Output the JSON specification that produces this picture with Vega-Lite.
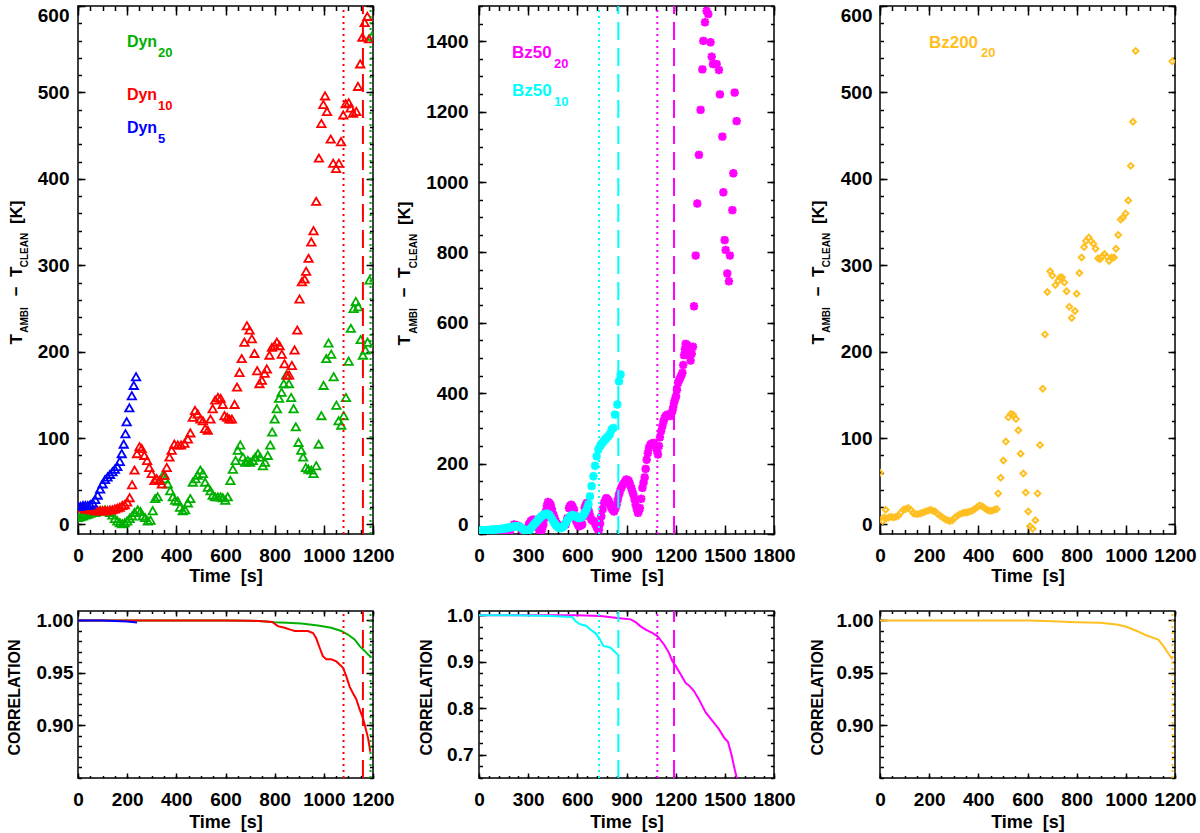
{
"$schema": "https://vega.github.io/schema/vega-lite/v6.json",
"background": "white",
"padding": {"left": 5, "top": 4, "right": 5, "bottom": 2},
"autosize": {"type": "pad"},
"config": {
  "view": {"stroke": "black", "strokeWidth": 1.5},
  "axis": {"domain": false, "grid": false, "tickColor": "black", "tickWidth": 1.5, "labelFont": "Liberation Sans", "labelFontSize": 19, "labelFontWeight": "bold", "labelColor": "black", "titleFont": "Liberation Sans", "titleFontWeight": "bold", "titleColor": "black", "labelOverlap": false, "labelFlush": false, "labelBound": false, "format": "d"},
  "text": {"font": "Liberation Sans"}
},
"datasets": {
"dyn": [
{"s":"Dyn20","t":0,"v":8},{"s":"Dyn20","t":10,"v":9},{"s":"Dyn20","t":20,"v":10},{"s":"Dyn20","t":30,"v":11},{"s":"Dyn20","t":40,"v":12},{"s":"Dyn20","t":50,"v":13},{"s":"Dyn20","t":60,"v":14},{"s":"Dyn20","t":70,"v":14},{"s":"Dyn20","t":80,"v":15},{"s":"Dyn20","t":90,"v":16},{"s":"Dyn20","t":100,"v":16},{"s":"Dyn20","t":110,"v":17},{"s":"Dyn20","t":120,"v":16},{"s":"Dyn20","t":130,"v":14},{"s":"Dyn20","t":140,"v":11},{"s":"Dyn20","t":150,"v":7},{"s":"Dyn20","t":160,"v":4},{"s":"Dyn20","t":170,"v":2},{"s":"Dyn20","t":180,"v":1},{"s":"Dyn20","t":190,"v":2},{"s":"Dyn20","t":200,"v":4},{"s":"Dyn20","t":210,"v":7},{"s":"Dyn20","t":220,"v":10},{"s":"Dyn20","t":230,"v":14},{"s":"Dyn20","t":243,"v":17},{"s":"Dyn20","t":254,"v":15},{"s":"Dyn20","t":263,"v":10},{"s":"Dyn20","t":273,"v":8},{"s":"Dyn20","t":284,"v":4},{"s":"Dyn20","t":295,"v":5},{"s":"Dyn20","t":304,"v":16},{"s":"Dyn20","t":314,"v":30},{"s":"Dyn20","t":324,"v":32},{"s":"Dyn20","t":335,"v":51},{"s":"Dyn20","t":345,"v":57},{"s":"Dyn20","t":354,"v":53},{"s":"Dyn20","t":365,"v":47},{"s":"Dyn20","t":375,"v":39},{"s":"Dyn20","t":386,"v":32},{"s":"Dyn20","t":395,"v":28},{"s":"Dyn20","t":406,"v":27},{"s":"Dyn20","t":415,"v":20},{"s":"Dyn20","t":426,"v":16},{"s":"Dyn20","t":436,"v":17},{"s":"Dyn20","t":447,"v":25},{"s":"Dyn20","t":457,"v":30},{"s":"Dyn20","t":467,"v":49},{"s":"Dyn20","t":478,"v":53},{"s":"Dyn20","t":487,"v":57},{"s":"Dyn20","t":498,"v":63},{"s":"Dyn20","t":508,"v":59},{"s":"Dyn20","t":517,"v":49},{"s":"Dyn20","t":528,"v":43},{"s":"Dyn20","t":539,"v":39},{"s":"Dyn20","t":548,"v":34},{"s":"Dyn20","t":558,"v":32},{"s":"Dyn20","t":569,"v":32},{"s":"Dyn20","t":580,"v":32},{"s":"Dyn20","t":589,"v":31},{"s":"Dyn20","t":599,"v":28},{"s":"Dyn20","t":609,"v":32},{"s":"Dyn20","t":620,"v":51},{"s":"Dyn20","t":630,"v":64},{"s":"Dyn20","t":641,"v":74},{"s":"Dyn20","t":650,"v":86},{"s":"Dyn20","t":660,"v":92},{"s":"Dyn20","t":671,"v":78},{"s":"Dyn20","t":680,"v":72},{"s":"Dyn20","t":691,"v":74},{"s":"Dyn20","t":700,"v":72},{"s":"Dyn20","t":711,"v":74},{"s":"Dyn20","t":721,"v":78},{"s":"Dyn20","t":732,"v":82},{"s":"Dyn20","t":741,"v":78},{"s":"Dyn20","t":752,"v":68},{"s":"Dyn20","t":761,"v":72},{"s":"Dyn20","t":772,"v":80},{"s":"Dyn20","t":782,"v":92},{"s":"Dyn20","t":790,"v":107},{"s":"Dyn20","t":800,"v":122},{"s":"Dyn20","t":809,"v":134},{"s":"Dyn20","t":818,"v":146},{"s":"Dyn20","t":828,"v":153},{"s":"Dyn20","t":837,"v":163},{"s":"Dyn20","t":847,"v":173},{"s":"Dyn20","t":858,"v":163},{"s":"Dyn20","t":867,"v":147},{"s":"Dyn20","t":877,"v":134},{"s":"Dyn20","t":886,"v":113},{"s":"Dyn20","t":897,"v":95},{"s":"Dyn20","t":908,"v":86},{"s":"Dyn20","t":916,"v":78},{"s":"Dyn20","t":927,"v":66},{"s":"Dyn20","t":937,"v":64},{"s":"Dyn20","t":949,"v":63},{"s":"Dyn20","t":958,"v":59},{"s":"Dyn20","t":969,"v":68},{"s":"Dyn20","t":979,"v":93},{"s":"Dyn20","t":990,"v":126},{"s":"Dyn20","t":999,"v":161},{"s":"Dyn20","t":1010,"v":192},{"s":"Dyn20","t":1019,"v":210},{"s":"Dyn20","t":1030,"v":197},{"s":"Dyn20","t":1040,"v":171},{"s":"Dyn20","t":1051,"v":138},{"s":"Dyn20","t":1060,"v":120},{"s":"Dyn20","t":1071,"v":115},{"s":"Dyn20","t":1081,"v":126},{"s":"Dyn20","t":1090,"v":147},{"s":"Dyn20","t":1101,"v":189},{"s":"Dyn20","t":1110,"v":227},{"s":"Dyn20","t":1121,"v":250},{"s":"Dyn20","t":1130,"v":258},{"s":"Dyn20","t":1140,"v":252},{"s":"Dyn20","t":1150,"v":214},{"s":"Dyn20","t":1159,"v":196},{"s":"Dyn20","t":1169,"v":202},{"s":"Dyn20","t":1178,"v":211},{"s":"Dyn20","t":1186,"v":283},{"s":"Dyn20","t":1195,"v":565},
{"s":"Dyn10","t":0,"v":20},{"s":"Dyn10","t":10,"v":20},{"s":"Dyn10","t":20,"v":19},{"s":"Dyn10","t":30,"v":18},{"s":"Dyn10","t":40,"v":18},{"s":"Dyn10","t":50,"v":17},{"s":"Dyn10","t":60,"v":17},{"s":"Dyn10","t":70,"v":16},{"s":"Dyn10","t":80,"v":16},{"s":"Dyn10","t":90,"v":16},{"s":"Dyn10","t":100,"v":16},{"s":"Dyn10","t":110,"v":16},{"s":"Dyn10","t":120,"v":16},{"s":"Dyn10","t":130,"v":17},{"s":"Dyn10","t":140,"v":17},{"s":"Dyn10","t":150,"v":18},{"s":"Dyn10","t":160,"v":19},{"s":"Dyn10","t":170,"v":20},{"s":"Dyn10","t":180,"v":22},{"s":"Dyn10","t":190,"v":23},{"s":"Dyn10","t":200,"v":26},{"s":"Dyn10","t":210,"v":31},{"s":"Dyn10","t":220,"v":46},{"s":"Dyn10","t":230,"v":63},{"s":"Dyn10","t":240,"v":82},{"s":"Dyn10","t":250,"v":90},{"s":"Dyn10","t":259,"v":88},{"s":"Dyn10","t":270,"v":80},{"s":"Dyn10","t":281,"v":74},{"s":"Dyn10","t":290,"v":66},{"s":"Dyn10","t":300,"v":59},{"s":"Dyn10","t":311,"v":51},{"s":"Dyn10","t":320,"v":53},{"s":"Dyn10","t":331,"v":51},{"s":"Dyn10","t":341,"v":47},{"s":"Dyn10","t":352,"v":57},{"s":"Dyn10","t":361,"v":66},{"s":"Dyn10","t":372,"v":78},{"s":"Dyn10","t":381,"v":86},{"s":"Dyn10","t":392,"v":93},{"s":"Dyn10","t":406,"v":92},{"s":"Dyn10","t":419,"v":92},{"s":"Dyn10","t":433,"v":94},{"s":"Dyn10","t":447,"v":99},{"s":"Dyn10","t":457,"v":106},{"s":"Dyn10","t":467,"v":124},{"s":"Dyn10","t":476,"v":132},{"s":"Dyn10","t":487,"v":128},{"s":"Dyn10","t":498,"v":122},{"s":"Dyn10","t":508,"v":120},{"s":"Dyn10","t":517,"v":111},{"s":"Dyn10","t":528,"v":109},{"s":"Dyn10","t":539,"v":122},{"s":"Dyn10","t":548,"v":134},{"s":"Dyn10","t":558,"v":144},{"s":"Dyn10","t":569,"v":147},{"s":"Dyn10","t":580,"v":146},{"s":"Dyn10","t":589,"v":139},{"s":"Dyn10","t":596,"v":126},{"s":"Dyn10","t":607,"v":124},{"s":"Dyn10","t":616,"v":122},{"s":"Dyn10","t":626,"v":122},{"s":"Dyn10","t":637,"v":139},{"s":"Dyn10","t":647,"v":159},{"s":"Dyn10","t":657,"v":176},{"s":"Dyn10","t":666,"v":192},{"s":"Dyn10","t":677,"v":211},{"s":"Dyn10","t":687,"v":230},{"s":"Dyn10","t":698,"v":225},{"s":"Dyn10","t":707,"v":215},{"s":"Dyn10","t":718,"v":198},{"s":"Dyn10","t":729,"v":178},{"s":"Dyn10","t":738,"v":163},{"s":"Dyn10","t":748,"v":167},{"s":"Dyn10","t":759,"v":175},{"s":"Dyn10","t":768,"v":180},{"s":"Dyn10","t":779,"v":196},{"s":"Dyn10","t":789,"v":205},{"s":"Dyn10","t":800,"v":207},{"s":"Dyn10","t":809,"v":211},{"s":"Dyn10","t":820,"v":207},{"s":"Dyn10","t":829,"v":197},{"s":"Dyn10","t":840,"v":186},{"s":"Dyn10","t":850,"v":173},{"s":"Dyn10","t":859,"v":173},{"s":"Dyn10","t":870,"v":184},{"s":"Dyn10","t":881,"v":202},{"s":"Dyn10","t":892,"v":225},{"s":"Dyn10","t":901,"v":261},{"s":"Dyn10","t":911,"v":281},{"s":"Dyn10","t":922,"v":284},{"s":"Dyn10","t":928,"v":293},{"s":"Dyn10","t":938,"v":308},{"s":"Dyn10","t":949,"v":327},{"s":"Dyn10","t":958,"v":340},{"s":"Dyn10","t":969,"v":374},{"s":"Dyn10","t":980,"v":424},{"s":"Dyn10","t":990,"v":464},{"s":"Dyn10","t":998,"v":486},{"s":"Dyn10","t":1005,"v":496},{"s":"Dyn10","t":1013,"v":478},{"s":"Dyn10","t":1028,"v":446},{"s":"Dyn10","t":1038,"v":418},{"s":"Dyn10","t":1050,"v":412},{"s":"Dyn10","t":1061,"v":418},{"s":"Dyn10","t":1070,"v":443},{"s":"Dyn10","t":1079,"v":474},{"s":"Dyn10","t":1089,"v":487},{"s":"Dyn10","t":1101,"v":488},{"s":"Dyn10","t":1109,"v":482},{"s":"Dyn10","t":1119,"v":476},{"s":"Dyn10","t":1132,"v":478},{"s":"Dyn10","t":1139,"v":507},{"s":"Dyn10","t":1148,"v":533},{"s":"Dyn10","t":1157,"v":564},{"s":"Dyn10","t":1166,"v":581},{"s":"Dyn10","t":1177,"v":588},{"s":"Dyn10","t":1184,"v":562},
{"s":"Dyn5","t":0,"v":21},{"s":"Dyn5","t":10,"v":21},{"s":"Dyn5","t":20,"v":22},{"s":"Dyn5","t":30,"v":22},{"s":"Dyn5","t":40,"v":22},{"s":"Dyn5","t":50,"v":23},{"s":"Dyn5","t":60,"v":25},{"s":"Dyn5","t":70,"v":29},{"s":"Dyn5","t":80,"v":34},{"s":"Dyn5","t":90,"v":41},{"s":"Dyn5","t":100,"v":47},{"s":"Dyn5","t":110,"v":52},{"s":"Dyn5","t":120,"v":55},{"s":"Dyn5","t":130,"v":58},{"s":"Dyn5","t":140,"v":61},{"s":"Dyn5","t":150,"v":64},{"s":"Dyn5","t":160,"v":67},{"s":"Dyn5","t":170,"v":73},{"s":"Dyn5","t":178,"v":82},{"s":"Dyn5","t":186,"v":93},{"s":"Dyn5","t":193,"v":105},{"s":"Dyn5","t":198,"v":119},{"s":"Dyn5","t":209,"v":135},{"s":"Dyn5","t":219,"v":149},{"s":"Dyn5","t":227,"v":161},{"s":"Dyn5","t":236,"v":171}
],
"vl_dyn": [{"s":"Dyn10","t":1080,"k":"dotted"},{"s":"Dyn10","t":1159,"k":"dashed"},{"s":"Dyn20","t":1190,"k":"dotted"}],
"bz50": [
{"s":"Bz50_20","t":0,"v":3},{"s":"Bz50_20","t":15,"v":3},{"s":"Bz50_20","t":30,"v":3},{"s":"Bz50_20","t":45,"v":3},{"s":"Bz50_20","t":60,"v":3},{"s":"Bz50_20","t":75,"v":3},{"s":"Bz50_20","t":90,"v":3},{"s":"Bz50_20","t":105,"v":3},{"s":"Bz50_20","t":120,"v":4},{"s":"Bz50_20","t":135,"v":4},{"s":"Bz50_20","t":150,"v":5},{"s":"Bz50_20","t":165,"v":5},{"s":"Bz50_20","t":173,"v":6},{"s":"Bz50_20","t":190,"v":10},{"s":"Bz50_20","t":214,"v":27},{"s":"Bz50_20","t":230,"v":25},{"s":"Bz50_20","t":244,"v":22},{"s":"Bz50_20","t":260,"v":12},{"s":"Bz50_20","t":275,"v":6},{"s":"Bz50_20","t":285,"v":10},{"s":"Bz50_20","t":295,"v":17},{"s":"Bz50_20","t":305,"v":28},{"s":"Bz50_20","t":315,"v":36},{"s":"Bz50_20","t":326,"v":40},{"s":"Bz50_20","t":336,"v":41},{"s":"Bz50_20","t":346,"v":32},{"s":"Bz50_20","t":356,"v":22},{"s":"Bz50_20","t":366,"v":12},{"s":"Bz50_20","t":376,"v":6},{"s":"Bz50_20","t":385,"v":14},{"s":"Bz50_20","t":393,"v":27},{"s":"Bz50_20","t":400,"v":45},{"s":"Bz50_20","t":407,"v":64},{"s":"Bz50_20","t":414,"v":80},{"s":"Bz50_20","t":421,"v":91},{"s":"Bz50_20","t":429,"v":88},{"s":"Bz50_20","t":437,"v":83},{"s":"Bz50_20","t":445,"v":70},{"s":"Bz50_20","t":454,"v":55},{"s":"Bz50_20","t":461,"v":45},{"s":"Bz50_20","t":468,"v":36},{"s":"Bz50_20","t":478,"v":28},{"s":"Bz50_20","t":488,"v":24},{"s":"Bz50_20","t":498,"v":22},{"s":"Bz50_20","t":508,"v":22},{"s":"Bz50_20","t":518,"v":24},{"s":"Bz50_20","t":529,"v":27},{"s":"Bz50_20","t":539,"v":45},{"s":"Bz50_20","t":549,"v":74},{"s":"Bz50_20","t":556,"v":80},{"s":"Bz50_20","t":563,"v":83},{"s":"Bz50_20","t":571,"v":78},{"s":"Bz50_20","t":580,"v":69},{"s":"Bz50_20","t":587,"v":52},{"s":"Bz50_20","t":594,"v":36},{"s":"Bz50_20","t":602,"v":28},{"s":"Bz50_20","t":610,"v":22},{"s":"Bz50_20","t":620,"v":24},{"s":"Bz50_20","t":630,"v":27},{"s":"Bz50_20","t":638,"v":50},{"s":"Bz50_20","t":645,"v":74},{"s":"Bz50_20","t":651,"v":82},{"s":"Bz50_20","t":657,"v":88},{"s":"Bz50_20","t":664,"v":76},{"s":"Bz50_20","t":671,"v":64},{"s":"Bz50_20","t":678,"v":52},{"s":"Bz50_20","t":685,"v":41},{"s":"Bz50_20","t":694,"v":38},{"s":"Bz50_20","t":702,"v":36},{"s":"Bz50_20","t":710,"v":28},{"s":"Bz50_20","t":718,"v":19},{"s":"Bz50_20","t":725,"v":14},{"s":"Bz50_20","t":732,"v":12},{"s":"Bz50_20","t":739,"v":30},{"s":"Bz50_20","t":746,"v":50},{"s":"Bz50_20","t":754,"v":70},{"s":"Bz50_20","t":763,"v":88},{"s":"Bz50_20","t":770,"v":96},{"s":"Bz50_20","t":777,"v":102},{"s":"Bz50_20","t":785,"v":98},{"s":"Bz50_20","t":793,"v":93},{"s":"Bz50_20","t":800,"v":84},{"s":"Bz50_20","t":807,"v":74},{"s":"Bz50_20","t":816,"v":68},{"s":"Bz50_20","t":824,"v":64},{"s":"Bz50_20","t":832,"v":72},{"s":"Bz50_20","t":840,"v":83},{"s":"Bz50_20","t":847,"v":98},{"s":"Bz50_20","t":854,"v":112},{"s":"Bz50_20","t":861,"v":122},{"s":"Bz50_20","t":868,"v":131},{"s":"Bz50_20","t":876,"v":139},{"s":"Bz50_20","t":885,"v":145},{"s":"Bz50_20","t":892,"v":150},{"s":"Bz50_20","t":899,"v":155},{"s":"Bz50_20","t":907,"v":153},{"s":"Bz50_20","t":915,"v":150},{"s":"Bz50_20","t":922,"v":140},{"s":"Bz50_20","t":929,"v":131},{"s":"Bz50_20","t":935,"v":122},{"s":"Bz50_20","t":942,"v":112},{"s":"Bz50_20","t":949,"v":98},{"s":"Bz50_20","t":956,"v":83},{"s":"Bz50_20","t":963,"v":71},{"s":"Bz50_20","t":970,"v":60},{"s":"Bz50_20","t":976,"v":66},{"s":"Bz50_20","t":982,"v":74},{"s":"Bz50_20","t":990,"v":100},{"s":"Bz50_20","t":997,"v":131},{"s":"Bz50_20","t":1004,"v":146},{"s":"Bz50_20","t":1011,"v":161},{"s":"Bz50_20","t":1017,"v":185},{"s":"Bz50_20","t":1023,"v":211},{"s":"Bz50_20","t":1030,"v":230},{"s":"Bz50_20","t":1037,"v":245},{"s":"Bz50_20","t":1044,"v":252},{"s":"Bz50_20","t":1051,"v":256},{"s":"Bz50_20","t":1060,"v":258},{"s":"Bz50_20","t":1068,"v":259},{"s":"Bz50_20","t":1075,"v":252},{"s":"Bz50_20","t":1082,"v":245},{"s":"Bz50_20","t":1087,"v":235},{"s":"Bz50_20","t":1092,"v":226},{"s":"Bz50_20","t":1098,"v":250},{"s":"Bz50_20","t":1104,"v":275},{"s":"Bz50_20","t":1111,"v":292},{"s":"Bz50_20","t":1119,"v":306},{"s":"Bz50_20","t":1126,"v":320},{"s":"Bz50_20","t":1133,"v":330},{"s":"Bz50_20","t":1141,"v":336},{"s":"Bz50_20","t":1149,"v":339},{"s":"Bz50_20","t":1157,"v":337},{"s":"Bz50_20","t":1165,"v":335},{"s":"Bz50_20","t":1172,"v":342},{"s":"Bz50_20","t":1180,"v":349},{"s":"Bz50_20","t":1185,"v":360},{"s":"Bz50_20","t":1190,"v":373},{"s":"Bz50_20","t":1196,"v":382},{"s":"Bz50_20","t":1202,"v":391},{"s":"Bz50_20","t":1208,"v":410},{"s":"Bz50_20","t":1214,"v":429},{"s":"Bz50_20","t":1220,"v":436},{"s":"Bz50_20","t":1226,"v":442},{"s":"Bz50_20","t":1234,"v":450},{"s":"Bz50_20","t":1241,"v":458},{"s":"Bz50_20","t":1246,"v":480},{"s":"Bz50_20","t":1251,"v":508},{"s":"Bz50_20","t":1256,"v":525},{"s":"Bz50_20","t":1261,"v":540},{"s":"Bz50_20","t":1268,"v":537},{"s":"Bz50_20","t":1275,"v":534},{"s":"Bz50_20","t":1283,"v":512},{"s":"Bz50_20","t":1291,"v":493},{"s":"Bz50_20","t":1298,"v":512},{"s":"Bz50_20","t":1306,"v":532},{"s":"Bz50_20","t":1312,"v":647},{"s":"Bz50_20","t":1322,"v":791},{"s":"Bz50_20","t":1332,"v":939},{"s":"Bz50_20","t":1342,"v":1077},{"s":"Bz50_20","t":1352,"v":1205},{"s":"Bz50_20","t":1363,"v":1320},{"s":"Bz50_20","t":1369,"v":1401},{"s":"Bz50_20","t":1379,"v":1454},{"s":"Bz50_20","t":1389,"v":1486},{"s":"Bz50_20","t":1399,"v":1477},{"s":"Bz50_20","t":1413,"v":1397},{"s":"Bz50_20","t":1420,"v":1356},{"s":"Bz50_20","t":1428,"v":1335},{"s":"Bz50_20","t":1450,"v":1335},{"s":"Bz50_20","t":1464,"v":1318},{"s":"Bz50_20","t":1470,"v":1249},{"s":"Bz50_20","t":1485,"v":1129},{"s":"Bz50_20","t":1491,"v":971},{"s":"Bz50_20","t":1499,"v":835},{"s":"Bz50_20","t":1505,"v":807},{"s":"Bz50_20","t":1515,"v":740},{"s":"Bz50_20","t":1525,"v":718},{"s":"Bz50_20","t":1531,"v":791},{"s":"Bz50_20","t":1546,"v":920},{"s":"Bz50_20","t":1552,"v":1025},{"s":"Bz50_20","t":1560,"v":1254},{"s":"Bz50_20","t":1572,"v":1173},
{"s":"Bz50_10","t":0,"v":10},{"s":"Bz50_10","t":10,"v":10},{"s":"Bz50_10","t":20,"v":10},{"s":"Bz50_10","t":30,"v":10},{"s":"Bz50_10","t":40,"v":11},{"s":"Bz50_10","t":50,"v":11},{"s":"Bz50_10","t":60,"v":11},{"s":"Bz50_10","t":70,"v":12},{"s":"Bz50_10","t":80,"v":12},{"s":"Bz50_10","t":90,"v":12},{"s":"Bz50_10","t":100,"v":13},{"s":"Bz50_10","t":110,"v":13},{"s":"Bz50_10","t":120,"v":14},{"s":"Bz50_10","t":130,"v":14},{"s":"Bz50_10","t":140,"v":15},{"s":"Bz50_10","t":150,"v":15},{"s":"Bz50_10","t":160,"v":16},{"s":"Bz50_10","t":170,"v":17},{"s":"Bz50_10","t":180,"v":18},{"s":"Bz50_10","t":190,"v":19},{"s":"Bz50_10","t":200,"v":20},{"s":"Bz50_10","t":210,"v":21},{"s":"Bz50_10","t":220,"v":22},{"s":"Bz50_10","t":230,"v":22},{"s":"Bz50_10","t":240,"v":22},{"s":"Bz50_10","t":250,"v":20},{"s":"Bz50_10","t":260,"v":17},{"s":"Bz50_10","t":270,"v":13},{"s":"Bz50_10","t":280,"v":10},{"s":"Bz50_10","t":290,"v":9},{"s":"Bz50_10","t":300,"v":10},{"s":"Bz50_10","t":310,"v":13},{"s":"Bz50_10","t":320,"v":18},{"s":"Bz50_10","t":330,"v":24},{"s":"Bz50_10","t":340,"v":29},{"s":"Bz50_10","t":350,"v":34},{"s":"Bz50_10","t":360,"v":40},{"s":"Bz50_10","t":370,"v":45},{"s":"Bz50_10","t":380,"v":50},{"s":"Bz50_10","t":390,"v":53},{"s":"Bz50_10","t":400,"v":56},{"s":"Bz50_10","t":410,"v":58},{"s":"Bz50_10","t":420,"v":57},{"s":"Bz50_10","t":430,"v":54},{"s":"Bz50_10","t":440,"v":47},{"s":"Bz50_10","t":450,"v":39},{"s":"Bz50_10","t":460,"v":31},{"s":"Bz50_10","t":470,"v":25},{"s":"Bz50_10","t":480,"v":20},{"s":"Bz50_10","t":490,"v":17},{"s":"Bz50_10","t":500,"v":17},{"s":"Bz50_10","t":510,"v":19},{"s":"Bz50_10","t":520,"v":25},{"s":"Bz50_10","t":530,"v":32},{"s":"Bz50_10","t":540,"v":40},{"s":"Bz50_10","t":550,"v":46},{"s":"Bz50_10","t":560,"v":51},{"s":"Bz50_10","t":570,"v":54},{"s":"Bz50_10","t":580,"v":53},{"s":"Bz50_10","t":590,"v":50},{"s":"Bz50_10","t":600,"v":47},{"s":"Bz50_10","t":610,"v":45},{"s":"Bz50_10","t":620,"v":46},{"s":"Bz50_10","t":630,"v":50},{"s":"Bz50_10","t":640,"v":56},{"s":"Bz50_10","t":650,"v":64},{"s":"Bz50_10","t":660,"v":74},{"s":"Bz50_10","t":668,"v":85},{"s":"Bz50_10","t":677,"v":107},{"s":"Bz50_10","t":687,"v":136},{"s":"Bz50_10","t":698,"v":164},{"s":"Bz50_10","t":708,"v":194},{"s":"Bz50_10","t":718,"v":221},{"s":"Bz50_10","t":728,"v":240},{"s":"Bz50_10","t":738,"v":249},{"s":"Bz50_10","t":748,"v":256},{"s":"Bz50_10","t":759,"v":262},{"s":"Bz50_10","t":769,"v":268},{"s":"Bz50_10","t":779,"v":273},{"s":"Bz50_10","t":789,"v":278},{"s":"Bz50_10","t":799,"v":284},{"s":"Bz50_10","t":809,"v":297},{"s":"Bz50_10","t":820,"v":301},{"s":"Bz50_10","t":830,"v":339},{"s":"Bz50_10","t":844,"v":368},{"s":"Bz50_10","t":854,"v":434},{"s":"Bz50_10","t":864,"v":453}
],
"vl_bz50": [{"s":"Bz50_10","t":732,"k":"dotted"},{"s":"Bz50_10","t":850,"k":"dashed"},{"s":"Bz50_20","t":1088,"k":"dotted"},{"s":"Bz50_20","t":1190,"k":"dashed"}],
"bz200": [
{"t":0,"v":60},{"t":11,"v":4},{"t":23,"v":17},{"t":15,"v":8},{"t":25,"v":7},{"t":35,"v":8},{"t":45,"v":9},{"t":55,"v":8},{"t":65,"v":9},{"t":75,"v":10},{"t":85,"v":14},{"t":95,"v":17},{"t":105,"v":18},{"t":115,"v":19},{"t":125,"v":17},{"t":135,"v":13},{"t":145,"v":12},{"t":155,"v":12},{"t":165,"v":13},{"t":175,"v":14},{"t":185,"v":15},{"t":195,"v":16},{"t":205,"v":17},{"t":215,"v":16},{"t":225,"v":15},{"t":235,"v":12},{"t":245,"v":10},{"t":255,"v":8},{"t":265,"v":6},{"t":275,"v":5},{"t":285,"v":4},{"t":295,"v":5},{"t":305,"v":8},{"t":315,"v":10},{"t":325,"v":12},{"t":335,"v":13},{"t":345,"v":14},{"t":355,"v":14},{"t":365,"v":15},{"t":375,"v":16},{"t":385,"v":18},{"t":395,"v":20},{"t":405,"v":22},{"t":415,"v":21},{"t":425,"v":19},{"t":435,"v":17},{"t":445,"v":16},{"t":455,"v":16},{"t":465,"v":17},{"t":475,"v":18},
{"t":481,"v":36},{"t":491,"v":54},{"t":502,"v":74},{"t":512,"v":96},{"t":522,"v":124},{"t":532,"v":128},{"t":542,"v":127},{"t":553,"v":122},{"t":563,"v":109},{"t":572,"v":82},{"t":583,"v":59},{"t":593,"v":37},{"t":603,"v":15},{"t":610,"v":-2},{"t":621,"v":-5},{"t":632,"v":5},{"t":641,"v":36},{"t":651,"v":92},{"t":662,"v":157},{"t":671,"v":220},{"t":681,"v":269},{"t":692,"v":293},{"t":701,"v":288},{"t":713,"v":277},{"t":725,"v":282},{"t":732,"v":286},{"t":740,"v":286},{"t":750,"v":280},{"t":759,"v":270},{"t":770,"v":252},{"t":780,"v":239},{"t":793,"v":247},{"t":800,"v":267},{"t":811,"v":291},{"t":820,"v":309},{"t":830,"v":321},{"t":838,"v":328},{"t":849,"v":332},{"t":858,"v":328},{"t":868,"v":325},{"t":877,"v":319},{"t":887,"v":308},{"t":895,"v":307},{"t":904,"v":310},{"t":913,"v":313},{"t":922,"v":310},{"t":932,"v":305},{"t":942,"v":309},{"t":952,"v":309},{"t":960,"v":319},{"t":969,"v":335},{"t":979,"v":353},{"t":988,"v":355},{"t":999,"v":360},{"t":1010,"v":375},{"t":1020,"v":415},{"t":1029,"v":466},{"t":1040,"v":548},{"t":1189,"v":536}
],
"corr_dyn": [
{"s":"Dyn20","t":0,"v":1},{"s":"Dyn20","t":200,"v":1},{"s":"Dyn20","t":400,"v":1},{"s":"Dyn20","t":600,"v":1},{"s":"Dyn20","t":700,"v":0.9998},{"s":"Dyn20","t":750,"v":0.9993},{"s":"Dyn20","t":800,"v":0.9984},{"s":"Dyn20","t":850,"v":0.9978},{"s":"Dyn20","t":908,"v":0.9971},{"s":"Dyn20","t":976,"v":0.9952},{"s":"Dyn20","t":1030,"v":0.993},{"s":"Dyn20","t":1071,"v":0.99},{"s":"Dyn20","t":1098,"v":0.9866},{"s":"Dyn20","t":1125,"v":0.982},{"s":"Dyn20","t":1146,"v":0.9755},{"s":"Dyn20","t":1166,"v":0.971},{"s":"Dyn20","t":1180,"v":0.9675},{"s":"Dyn20","t":1193,"v":0.965},
{"s":"Dyn10","t":0,"v":1},{"s":"Dyn10","t":200,"v":1},{"s":"Dyn10","t":400,"v":1},{"s":"Dyn10","t":600,"v":1},{"s":"Dyn10","t":700,"v":0.9998},{"s":"Dyn10","t":750,"v":0.9993},{"s":"Dyn10","t":790,"v":0.9985},{"s":"Dyn10","t":813,"v":0.9946},{"s":"Dyn10","t":840,"v":0.993},{"s":"Dyn10","t":867,"v":0.991},{"s":"Dyn10","t":881,"v":0.99},{"s":"Dyn10","t":908,"v":0.99},{"s":"Dyn10","t":935,"v":0.99},{"s":"Dyn10","t":956,"v":0.988},{"s":"Dyn10","t":969,"v":0.983},{"s":"Dyn10","t":983,"v":0.974},{"s":"Dyn10","t":996,"v":0.966},{"s":"Dyn10","t":1010,"v":0.963},{"s":"Dyn10","t":1030,"v":0.963},{"s":"Dyn10","t":1051,"v":0.961},{"s":"Dyn10","t":1064,"v":0.958},{"s":"Dyn10","t":1078,"v":0.955},{"s":"Dyn10","t":1091,"v":0.947},{"s":"Dyn10","t":1105,"v":0.937},{"s":"Dyn10","t":1118,"v":0.931},{"s":"Dyn10","t":1132,"v":0.925},{"s":"Dyn10","t":1146,"v":0.915},{"s":"Dyn10","t":1159,"v":0.907},{"s":"Dyn10","t":1166,"v":0.901},{"s":"Dyn10","t":1180,"v":0.888},{"s":"Dyn10","t":1189,"v":0.875},
{"s":"Dyn5","t":0,"v":1},{"s":"Dyn5","t":100,"v":1},{"s":"Dyn5","t":150,"v":0.9995},{"s":"Dyn5","t":200,"v":0.999},{"s":"Dyn5","t":240,"v":0.998}
],
"corr_bz50": [
{"s":"Bz50_20","t":0,"v":1},{"s":"Bz50_20","t":300,"v":1},{"s":"Bz50_20","t":600,"v":1},{"s":"Bz50_20","t":742,"v":0.998},{"s":"Bz50_20","t":844,"v":0.994},{"s":"Bz50_20","t":925,"v":0.991},{"s":"Bz50_20","t":956,"v":0.985},{"s":"Bz50_20","t":986,"v":0.976},{"s":"Bz50_20","t":1017,"v":0.969},{"s":"Bz50_20","t":1057,"v":0.962},{"s":"Bz50_20","t":1088,"v":0.955},{"s":"Bz50_20","t":1129,"v":0.937},{"s":"Bz50_20","t":1159,"v":0.919},{"s":"Bz50_20","t":1180,"v":0.901},{"s":"Bz50_20","t":1200,"v":0.891},{"s":"Bz50_20","t":1230,"v":0.873},{"s":"Bz50_20","t":1261,"v":0.854},{"s":"Bz50_20","t":1281,"v":0.849},{"s":"Bz50_20","t":1312,"v":0.837},{"s":"Bz50_20","t":1342,"v":0.819},{"s":"Bz50_20","t":1383,"v":0.791},{"s":"Bz50_20","t":1424,"v":0.773},{"s":"Bz50_20","t":1464,"v":0.755},{"s":"Bz50_20","t":1495,"v":0.737},{"s":"Bz50_20","t":1519,"v":0.728},{"s":"Bz50_20","t":1540,"v":0.701},{"s":"Bz50_20","t":1560,"v":0.669},{"s":"Bz50_20","t":1580,"v":0.64},
{"s":"Bz50_10","t":0,"v":1},{"s":"Bz50_10","t":200,"v":1},{"s":"Bz50_10","t":437,"v":0.998},{"s":"Bz50_10","t":569,"v":0.996},{"s":"Bz50_10","t":590,"v":0.987},{"s":"Bz50_10","t":620,"v":0.98},{"s":"Bz50_10","t":651,"v":0.978},{"s":"Bz50_10","t":681,"v":0.969},{"s":"Bz50_10","t":712,"v":0.961},{"s":"Bz50_10","t":738,"v":0.948},{"s":"Bz50_10","t":759,"v":0.934},{"s":"Bz50_10","t":783,"v":0.932},{"s":"Bz50_10","t":803,"v":0.93},{"s":"Bz50_10","t":824,"v":0.923},{"s":"Bz50_10","t":844,"v":0.916},{"s":"Bz50_10","t":854,"v":0.912}
],
"corr_bz200": [
{"t":0,"v":1},{"t":200,"v":1},{"t":400,"v":1},{"t":600,"v":1},{"t":700,"v":0.9992},{"t":800,"v":0.9984},{"t":895,"v":0.9978},{"t":963,"v":0.9962},{"t":1003,"v":0.994},{"t":1044,"v":0.99},{"t":1085,"v":0.9857},{"t":1132,"v":0.9818},{"t":1153,"v":0.9755},{"t":1173,"v":0.9685},{"t":1190,"v":0.963}
],
"vl_bz200": [{"s":"Bz200_20","t":1190,"k":"dotted"}]
},
"columns": 3,
"spacing": {"row": 77, "column": 106},
"bounds": "flush",
"concat": [
{
 "width": 295, "height": 528,
 "resolve": {"axis": {"x": "independent", "y": "independent"}},
 "layer": [
  {"data": {"name": "dyn"},
   "mark": {"type": "point", "shape": "triangle-up", "filled": false, "strokeWidth": 1.8, "size": 70, "opacity": 1, "clip": true},
   "encoding": {
    "x": {"field": "t", "type": "quantitative", "scale": {"domain": [0,1200], "nice": false, "zero": false}, "axis": {"orient": "bottom", "values": [0,200,400,600,800,1000,1200], "format": "d", "tickSize": -9, "labelPadding": 36, "labelBaseline": "alphabetic", "title": "Time\u00a0\u00a0[s]", "titleFontSize": 18, "titleY": 47, "titleBaseline": "alphabetic"}},
    "y": {"field": "v", "type": "quantitative", "scale": {"domain": [-11,600], "nice": false, "zero": false}, "axis": {"orient": "left", "values": [0,100,200,300,400,500,600], "format": "d", "tickSize": -7, "labelPadding": 16, "labelFlush": true, "title": "T\u00a0\u00a0\u00a0\u00a0\u00a0\u00a0\u00a0\u00a0\u2212\u00a0\u00a0T\u00a0\u00a0\u00a0\u00a0\u00a0\u00a0\u00a0\u00a0\u00a0[K]", "titleFontSize": 17, "titleAngle": 270, "titleX": -57, "titleY": 266, "titleBaseline": "alphabetic", "titleAlign": "center"}},
    "color": {"field": "s", "type": "nominal", "scale": {"domain": ["Dyn20","Dyn10","Dyn5","Bz50_20","Bz50_10","Bz200_20"], "range": ["#00b000","#ff0000","#0000ff","#ff00ff","#00ffff","#ffbf20"]}, "legend": null}
   }},
  {"data": {"name": "vl_dyn"},
   "mark": {"type": "rule", "strokeWidth": 2, "clip": true},
   "encoding": {
    "x": {"field": "t", "type": "quantitative", "scale": {"domain": [0,1200], "nice": false, "zero": false}, "axis": {"orient": "top", "values": [0,200,400,600,800,1000,1200], "tickSize": -9, "labels": false, "title": null}},
    "y": {"datum": -11, "type": "quantitative", "scale": {"domain": [-11,600], "nice": false, "zero": false}, "axis": {"orient": "right", "values": [0,100,200,300,400,500,600], "tickSize": -7, "labels": false, "title": null}},
    "y2": {"datum": 600},
    "color": {"field": "s", "type": "nominal", "scale": {"domain": ["Dyn20","Dyn10","Dyn5","Bz50_20","Bz50_10","Bz200_20"], "range": ["#00b000","#ff0000","#0000ff","#ff00ff","#00ffff","#ffbf20"]}, "legend": null},
    "strokeDash": {"field": "k", "type": "nominal", "scale": {"domain": ["dotted","dashed"], "range": [[2,4],[18,8]]}, "legend": null}
   }},
  {"data": {"values": [{}]},
   "mark": {"type": "text", "text": "Dyn", "align": "left", "baseline": "alphabetic", "fontSize": 16, "fontWeight": "bold", "color": "#00b000"},
   "encoding": {
    "x": {"datum": 199, "type": "quantitative", "scale": {"domain": [0,1200], "nice": false, "zero": false}, "axis": {"orient": "bottom", "values": [0,50,100,150,200,250,300,350,400,450,500,550,600,650,700,750,800,850,900,950,1000,1050,1100,1150,1200], "tickSize": -4.5, "labels": false, "title": null}},
    "y": {"datum": 553, "type": "quantitative", "scale": {"domain": [-11,600], "nice": false, "zero": false}, "axis": {"orient": "left", "values": [0,20,40,60,80,100,120,140,160,180,200,220,240,260,280,300,320,340,360,380,400,420,440,460,480,500,520,540,560,580,600], "tickSize": -3.5, "labels": false, "title": "AMBI", "titleFontSize": 10, "titleAngle": 270, "titleX": -51, "titleY": 313.5, "titleBaseline": "alphabetic", "titleAlign": "center"}}
   }},
  {"data": {"values": [{}]},
   "mark": {"type": "text", "text": "Dyn", "align": "left", "baseline": "alphabetic", "fontSize": 16, "fontWeight": "bold", "color": "#ff0000"},
   "encoding": {
    "x": {"datum": 199, "type": "quantitative", "scale": {"domain": [0,1200], "nice": false, "zero": false}, "axis": {"orient": "top", "values": [0,50,100,150,200,250,300,350,400,450,500,550,600,650,700,750,800,850,900,950,1000,1050,1100,1150,1200], "tickSize": -4.5, "labels": false, "title": null}},
    "y": {"datum": 491, "type": "quantitative", "scale": {"domain": [-11,600], "nice": false, "zero": false}, "axis": {"orient": "right", "values": [0,20,40,60,80,100,120,140,160,180,200,220,240,260,280,300,320,340,360,380,400,420,440,460,480,500,520,540,560,580,600], "tickSize": -3.5, "labels": false, "title": null}}
   }},
  {"data": {"values": [{}]},
   "mark": {"type": "text", "text": "Dyn", "align": "left", "baseline": "alphabetic", "fontSize": 16, "fontWeight": "bold", "color": "#0000ff"},
   "encoding": {
    "x": {"datum": 199, "type": "quantitative", "scale": {"domain": [0,1200], "nice": false, "zero": false}, "axis": null},
    "y": {"datum": 453, "type": "quantitative", "scale": {"domain": [-11,600], "nice": false, "zero": false}, "axis": {"orient": "left", "ticks": false, "labels": false, "title": "CLEAN", "titleFontSize": 10, "titleAngle": 270, "titleX": -51, "titleY": 243.5, "titleBaseline": "alphabetic", "titleAlign": "center"}}
   }},
  {"data": {"values": [{}]},
   "mark": {"type": "text", "text": "20", "align": "left", "baseline": "alphabetic", "fontSize": 13, "fontWeight": "bold", "color": "#00b000", "dx": 31, "dy": 10},
   "encoding": {"x": {"datum": 199, "type": "quantitative", "axis": null}, "y": {"datum": 553, "type": "quantitative", "axis": null}}},
  {"data": {"values": [{}]},
   "mark": {"type": "text", "text": "10", "align": "left", "baseline": "alphabetic", "fontSize": 13, "fontWeight": "bold", "color": "#ff0000", "dx": 31, "dy": 10},
   "encoding": {"x": {"datum": 199, "type": "quantitative", "axis": null}, "y": {"datum": 491, "type": "quantitative", "axis": null}}},
  {"data": {"values": [{}]},
   "mark": {"type": "text", "text": "5", "align": "left", "baseline": "alphabetic", "fontSize": 13, "fontWeight": "bold", "color": "#0000ff", "dx": 31, "dy": 10},
   "encoding": {"x": {"datum": 199, "type": "quantitative", "axis": null}, "y": {"datum": 453, "type": "quantitative", "axis": null}}}
 ]
},
{
 "width": 295, "height": 528,
 "resolve": {"axis": {"x": "independent", "y": "independent"}},
 "layer": [
  {"data": {"name": "bz50"},
   "mark": {"type": "point", "shape": "M-1,0L1,0M0,-1L0,1M-0.75,-0.75L0.75,0.75M-0.75,0.75L0.75,-0.75", "filled": false, "strokeWidth": 2.6, "size": 70, "opacity": 1, "clip": true},
   "encoding": {
    "x": {"field": "t", "type": "quantitative", "scale": {"domain": [0,1800], "nice": false, "zero": false}, "axis": {"orient": "bottom", "values": [0,300,600,900,1200,1500,1800], "format": "d", "tickSize": -9, "labelPadding": 36, "labelBaseline": "alphabetic", "title": "Time\u00a0\u00a0[s]", "titleFontSize": 18, "titleY": 47, "titleBaseline": "alphabetic"}},
    "y": {"field": "v", "type": "quantitative", "scale": {"domain": [0,1500], "nice": false, "zero": false}, "axis": {"orient": "left", "values": [0,200,400,600,800,1000,1200,1400], "format": "d", "tickSize": -7, "labelPadding": 18, "labelFlush": true, "title": "T\u00a0\u00a0\u00a0\u00a0\u00a0\u00a0\u00a0\u00a0\u2212\u00a0\u00a0T\u00a0\u00a0\u00a0\u00a0\u00a0\u00a0\u00a0\u00a0\u00a0[K]", "titleFontSize": 17, "titleAngle": 270, "titleX": -70, "titleY": 267, "titleBaseline": "alphabetic", "titleAlign": "center"}},
    "color": {"field": "s", "type": "nominal", "scale": {"domain": ["Dyn20","Dyn10","Dyn5","Bz50_20","Bz50_10","Bz200_20"], "range": ["#00b000","#ff0000","#0000ff","#ff00ff","#00ffff","#ffbf20"]}, "legend": null}
   }},
  {"data": {"name": "vl_bz50"},
   "mark": {"type": "rule", "strokeWidth": 2, "clip": true},
   "encoding": {
    "x": {"field": "t", "type": "quantitative", "scale": {"domain": [0,1800], "nice": false, "zero": false}, "axis": {"orient": "top", "values": [0,300,600,900,1200,1500,1800], "tickSize": -9, "labels": false, "title": null}},
    "y": {"datum": 0, "type": "quantitative", "scale": {"domain": [0,1500], "nice": false, "zero": false}, "axis": {"orient": "right", "values": [0,200,400,600,800,1000,1200,1400], "tickSize": -7, "labels": false, "title": null}},
    "y2": {"datum": 1500},
    "color": {"field": "s", "type": "nominal", "scale": {"domain": ["Dyn20","Dyn10","Dyn5","Bz50_20","Bz50_10","Bz200_20"], "range": ["#00b000","#ff0000","#0000ff","#ff00ff","#00ffff","#ffbf20"]}, "legend": null},
    "strokeDash": {"field": "k", "type": "nominal", "scale": {"domain": ["dotted","dashed"], "range": [[2,4],[18,8]]}, "legend": null}
   }},
  {"data": {"values": [{}]},
   "mark": {"type": "text", "text": "Bz50", "align": "left", "baseline": "alphabetic", "fontSize": 17, "fontWeight": "bold", "color": "#ff00ff"},
   "encoding": {
    "x": {"datum": 201, "type": "quantitative", "scale": {"domain": [0,1800], "nice": false, "zero": false}, "axis": {"orient": "bottom", "values": [0,60,120,180,240,300,360,420,480,540,600,660,720,780,840,900,960,1020,1080,1140,1200,1260,1320,1380,1440,1500,1560,1620,1680,1740,1800], "tickSize": -4.5, "labels": false, "title": null}},
    "y": {"datum": 1353, "type": "quantitative", "scale": {"domain": [0,1500], "nice": false, "zero": false}, "axis": {"orient": "left", "values": [0,50,100,150,200,250,300,350,400,450,500,550,600,650,700,750,800,850,900,950,1000,1050,1100,1150,1200,1250,1300,1350,1400,1450,1500], "tickSize": -3.5, "labels": false, "title": "AMBI", "titleFontSize": 10, "titleAngle": 270, "titleX": -63, "titleY": 314.5, "titleBaseline": "alphabetic", "titleAlign": "center"}}
   }},
  {"data": {"values": [{}]},
   "mark": {"type": "text", "text": "Bz50", "align": "left", "baseline": "alphabetic", "fontSize": 17, "fontWeight": "bold", "color": "#00ffff"},
   "encoding": {
    "x": {"datum": 201, "type": "quantitative", "scale": {"domain": [0,1800], "nice": false, "zero": false}, "axis": {"orient": "top", "values": [0,60,120,180,240,300,360,420,480,540,600,660,720,780,840,900,960,1020,1080,1140,1200,1260,1320,1380,1440,1500,1560,1620,1680,1740,1800], "tickSize": -4.5, "labels": false, "title": null}},
    "y": {"datum": 1244, "type": "quantitative", "scale": {"domain": [0,1500], "nice": false, "zero": false}, "axis": {"orient": "right", "values": [0,50,100,150,200,250,300,350,400,450,500,550,600,650,700,750,800,850,900,950,1000,1050,1100,1150,1200,1250,1300,1350,1400,1450,1500], "tickSize": -3.5, "labels": false, "title": null}}
   }},
  {"data": {"values": [{}]},
   "mark": {"type": "text", "text": "20", "align": "left", "baseline": "alphabetic", "fontSize": 13, "fontWeight": "bold", "color": "#ff00ff", "dx": 42, "dy": 10},
   "encoding": {
    "x": {"datum": 201, "type": "quantitative", "axis": null},
    "y": {"datum": 1353, "type": "quantitative", "axis": {"orient": "left", "ticks": false, "labels": false, "title": "CLEAN", "titleFontSize": 10, "titleAngle": 270, "titleX": -63, "titleY": 244.5, "titleBaseline": "alphabetic", "titleAlign": "center"}}
   }},
  {"data": {"values": [{}]},
   "mark": {"type": "text", "text": "10", "align": "left", "baseline": "alphabetic", "fontSize": 13, "fontWeight": "bold", "color": "#00ffff", "dx": 42, "dy": 10},
   "encoding": {"x": {"datum": 201, "type": "quantitative", "axis": null}, "y": {"datum": 1244, "type": "quantitative", "axis": null}}}
 ]
},
{
 "width": 295, "height": 528,
 "resolve": {"axis": {"x": "independent", "y": "independent"}},
 "layer": [
  {"data": {"name": "bz200"},
   "mark": {"type": "point", "shape": "diamond", "filled": false, "strokeWidth": 2, "size": 32, "opacity": 1, "clip": true, "color": "#ffbf20"},
   "encoding": {
    "x": {"field": "t", "type": "quantitative", "scale": {"domain": [0,1200], "nice": false, "zero": false}, "axis": {"orient": "bottom", "values": [0,200,400,600,800,1000,1200], "format": "d", "tickSize": -9, "labelPadding": 36, "labelBaseline": "alphabetic", "title": "Time\u00a0\u00a0[s]", "titleFontSize": 18, "titleY": 47, "titleBaseline": "alphabetic"}},
    "y": {"field": "v", "type": "quantitative", "scale": {"domain": [-11,600], "nice": false, "zero": false}, "axis": {"orient": "left", "values": [0,100,200,300,400,500,600], "format": "d", "tickSize": -7, "labelPadding": 15, "labelFlush": true, "title": "T\u00a0\u00a0\u00a0\u00a0\u00a0\u00a0\u00a0\u00a0\u2212\u00a0\u00a0T\u00a0\u00a0\u00a0\u00a0\u00a0\u00a0\u00a0\u00a0\u00a0[K]", "titleFontSize": 17, "titleAngle": 270, "titleX": -57, "titleY": 266, "titleBaseline": "alphabetic", "titleAlign": "center"}}
   }},
  {"data": {"values": [{}]},
   "mark": {"type": "text", "text": "Bz200", "align": "left", "baseline": "alphabetic", "fontSize": 17, "fontWeight": "bold", "color": "#ffbf20"},
   "encoding": {
    "x": {"datum": 199, "type": "quantitative", "scale": {"domain": [0,1200], "nice": false, "zero": false}, "axis": {"orient": "bottom", "values": [0,50,100,150,200,250,300,350,400,450,500,550,600,650,700,750,800,850,900,950,1000,1050,1100,1150,1200], "tickSize": -4.5, "labels": false, "title": null}},
    "y": {"datum": 551, "type": "quantitative", "scale": {"domain": [-11,600], "nice": false, "zero": false}, "axis": {"orient": "left", "values": [0,20,40,60,80,100,120,140,160,180,200,220,240,260,280,300,320,340,360,380,400,420,440,460,480,500,520,540,560,580,600], "tickSize": -3.5, "labels": false, "title": "AMBI", "titleFontSize": 10, "titleAngle": 270, "titleX": -51, "titleY": 313.5, "titleBaseline": "alphabetic", "titleAlign": "center"}}
   }},
  {"data": {"values": [{}]},
   "mark": {"type": "text", "text": "20", "align": "left", "baseline": "alphabetic", "fontSize": 13, "fontWeight": "bold", "color": "#ffbf20", "dx": 52, "dy": 9},
   "encoding": {
    "x": {"datum": 199, "type": "quantitative", "scale": {"domain": [0,1200], "nice": false, "zero": false}, "axis": {"orient": "top", "values": [0,50,100,150,200,250,300,350,400,450,500,550,600,650,700,750,800,850,900,950,1000,1050,1100,1150,1200], "tickSize": -4.5, "labels": false, "title": null}},
    "y": {"datum": 551, "type": "quantitative", "scale": {"domain": [-11,600], "nice": false, "zero": false}, "axis": {"orient": "right", "values": [0,20,40,60,80,100,120,140,160,180,200,220,240,260,280,300,320,340,360,380,400,420,440,460,480,500,520,540,560,580,600], "tickSize": -3.5, "labels": false, "title": null}}
   }},
  {"data": {"values": [{}]},
   "mark": {"type": "text", "text": ""},
   "encoding": {
    "x": {"datum": 0, "type": "quantitative", "scale": {"domain": [0,1200], "nice": false, "zero": false}, "axis": {"orient": "top", "values": [0,200,400,600,800,1000,1200], "tickSize": -9, "labels": false, "title": null}},
    "y": {"datum": 0, "type": "quantitative", "scale": {"domain": [-11,600], "nice": false, "zero": false}, "axis": {"orient": "right", "values": [0,100,200,300,400,500,600], "tickSize": -7, "labels": false, "title": null}}
   }},
  {"data": {"values": [{}]},
   "mark": {"type": "text", "text": ""},
   "encoding": {
    "x": {"datum": 0, "type": "quantitative", "axis": null},
    "y": {"datum": 0, "type": "quantitative", "axis": {"orient": "left", "ticks": false, "labels": false, "title": "CLEAN", "titleFontSize": 10, "titleAngle": 270, "titleX": -51, "titleY": 243.5, "titleBaseline": "alphabetic", "titleAlign": "center"}}
   }}
 ]
},
{
 "width": 295, "height": 167,
 "resolve": {"axis": {"x": "independent", "y": "independent"}},
 "layer": [
  {"data": {"name": "corr_dyn"}, "transform": [{"filter": "datum.s === 'Dyn20'"}],
   "mark": {"type": "line", "color": "#00b000", "strokeWidth": 2, "clip": true},
   "encoding": {
    "x": {"field": "t", "type": "quantitative", "scale": {"domain": [0,1200], "nice": false, "zero": false}, "axis": {"orient": "bottom", "values": [0,200,400,600,800,1000,1200], "format": "d", "tickSize": -5, "labelPadding": 32, "labelBaseline": "alphabetic", "title": "Time\u00a0\u00a0[s]", "titleFontSize": 18, "titleY": 49, "titleBaseline": "alphabetic"}},
    "y": {"field": "v", "type": "quantitative", "scale": {"domain": [0.85,1.009], "nice": false, "zero": false}, "axis": {"orient": "left", "values": [0.9,0.95,1], "format": ".2f", "tickSize": -7, "labelPadding": 12, "title": "CORRELATION", "titleFontSize": 16, "titleAngle": 270, "titleX": -59, "titleY": 86, "titleBaseline": "alphabetic", "titleAlign": "center"}}
   }},
  {"data": {"name": "corr_dyn"}, "transform": [{"filter": "datum.s === 'Dyn10'"}],
   "mark": {"type": "line", "color": "#ff0000", "strokeWidth": 2, "clip": true},
   "encoding": {
    "x": {"field": "t", "type": "quantitative", "scale": {"domain": [0,1200], "nice": false, "zero": false}, "axis": {"orient": "bottom", "values": [0,50,100,150,200,250,300,350,400,450,500,550,600,650,700,750,800,850,900,950,1000,1050,1100,1150,1200], "tickSize": -2.5, "labels": false, "title": null}},
    "y": {"field": "v", "type": "quantitative", "scale": {"domain": [0.85,1.009], "nice": false, "zero": false}, "axis": {"orient": "left", "values": [0.85,0.86,0.87,0.88,0.89,0.9,0.91,0.92,0.93,0.94,0.95,0.96,0.97,0.98,0.99,1], "tickSize": -3.5, "labels": false, "title": null}}
   }},
  {"data": {"name": "corr_dyn"}, "transform": [{"filter": "datum.s === 'Dyn5'"}],
   "mark": {"type": "line", "color": "#0000ff", "strokeWidth": 2, "clip": true},
   "encoding": {
    "x": {"field": "t", "type": "quantitative", "scale": {"domain": [0,1200], "nice": false, "zero": false}, "axis": {"orient": "top", "values": [0,50,100,150,200,250,300,350,400,450,500,550,600,650,700,750,800,850,900,950,1000,1050,1100,1150,1200], "tickSize": -2.5, "labels": false, "title": null}},
    "y": {"field": "v", "type": "quantitative", "scale": {"domain": [0.85,1.009], "nice": false, "zero": false}, "axis": {"orient": "right", "values": [0.85,0.86,0.87,0.88,0.89,0.9,0.91,0.92,0.93,0.94,0.95,0.96,0.97,0.98,0.99,1], "tickSize": -3.5, "labels": false, "title": null}}
   }},
  {"data": {"name": "vl_dyn"},
   "mark": {"type": "rule", "strokeWidth": 2, "clip": true},
   "encoding": {
    "x": {"field": "t", "type": "quantitative", "scale": {"domain": [0,1200], "nice": false, "zero": false}, "axis": {"orient": "top", "values": [0,200,400,600,800,1000,1200], "tickSize": -5, "labels": false, "title": null}},
    "y": {"datum": 0.85, "type": "quantitative", "scale": {"domain": [0.85,1.009], "nice": false, "zero": false}, "axis": {"orient": "right", "values": [0.9,0.95,1], "tickSize": -7, "labels": false, "title": null}},
    "y2": {"datum": 1.009},
    "color": {"field": "s", "type": "nominal", "scale": {"domain": ["Dyn20","Dyn10","Dyn5","Bz50_20","Bz50_10","Bz200_20"], "range": ["#00b000","#ff0000","#0000ff","#ff00ff","#00ffff","#ffbf20"]}, "legend": null},
    "strokeDash": {"field": "k", "type": "nominal", "scale": {"domain": ["dotted","dashed"], "range": [[2,4],[18,8]]}, "legend": null}
   }}
 ]
},
{
 "width": 295, "height": 167,
 "resolve": {"axis": {"x": "independent", "y": "independent"}},
 "layer": [
  {"data": {"name": "corr_bz50"}, "transform": [{"filter": "datum.s === 'Bz50_20'"}],
   "mark": {"type": "line", "color": "#ff00ff", "strokeWidth": 2, "clip": true},
   "encoding": {
    "x": {"field": "t", "type": "quantitative", "scale": {"domain": [0,1800], "nice": false, "zero": false}, "axis": {"orient": "bottom", "values": [0,300,600,900,1200,1500,1800], "format": "d", "tickSize": -5, "labelPadding": 32, "labelBaseline": "alphabetic", "title": "Time\u00a0\u00a0[s]", "titleFontSize": 18, "titleY": 49, "titleBaseline": "alphabetic"}},
    "y": {"field": "v", "type": "quantitative", "scale": {"domain": [0.65,1.009], "nice": false, "zero": false}, "axis": {"orient": "left", "values": [0.7,0.8,0.9,1], "format": ".1f", "tickSize": -7, "labelPadding": 13, "title": "CORRELATION", "titleFontSize": 16, "titleAngle": 270, "titleX": -48, "titleY": 86, "titleBaseline": "alphabetic", "titleAlign": "center"}}
   }},
  {"data": {"name": "corr_bz50"}, "transform": [{"filter": "datum.s === 'Bz50_10'"}],
   "mark": {"type": "line", "color": "#00ffff", "strokeWidth": 2, "clip": true},
   "encoding": {
    "x": {"field": "t", "type": "quantitative", "scale": {"domain": [0,1800], "nice": false, "zero": false}, "axis": {"orient": "bottom", "values": [0,60,120,180,240,300,360,420,480,540,600,660,720,780,840,900,960,1020,1080,1140,1200,1260,1320,1380,1440,1500,1560,1620,1680,1740,1800], "tickSize": -2.5, "labels": false, "title": null}},
    "y": {"field": "v", "type": "quantitative", "scale": {"domain": [0.65,1.009], "nice": false, "zero": false}, "axis": {"orient": "left", "values": [0.65,0.675,0.7,0.725,0.75,0.775,0.8,0.825,0.85,0.875,0.9,0.925,0.95,0.975,1], "tickSize": -3.5, "labels": false, "title": null}}
   }},
  {"data": {"name": "vl_bz50"},
   "mark": {"type": "rule", "strokeWidth": 2, "clip": true},
   "encoding": {
    "x": {"field": "t", "type": "quantitative", "scale": {"domain": [0,1800], "nice": false, "zero": false}, "axis": {"orient": "top", "values": [0,300,600,900,1200,1500,1800], "tickSize": -5, "labels": false, "title": null}},
    "y": {"datum": 0.65, "type": "quantitative", "scale": {"domain": [0.65,1.009], "nice": false, "zero": false}, "axis": {"orient": "right", "values": [0.7,0.8,0.9,1], "tickSize": -7, "labels": false, "title": null}},
    "y2": {"datum": 1.009},
    "color": {"field": "s", "type": "nominal", "scale": {"domain": ["Dyn20","Dyn10","Dyn5","Bz50_20","Bz50_10","Bz200_20"], "range": ["#00b000","#ff0000","#0000ff","#ff00ff","#00ffff","#ffbf20"]}, "legend": null},
    "strokeDash": {"field": "k", "type": "nominal", "scale": {"domain": ["dotted","dashed"], "range": [[2,4],[18,8]]}, "legend": null}
   }},
  {"data": {"values": [{}]},
   "mark": {"type": "text", "text": ""},
   "encoding": {
    "x": {"datum": 0, "type": "quantitative", "scale": {"domain": [0,1800], "nice": false, "zero": false}, "axis": {"orient": "top", "values": [0,60,120,180,240,300,360,420,480,540,600,660,720,780,840,900,960,1020,1080,1140,1200,1260,1320,1380,1440,1500,1560,1620,1680,1740,1800], "tickSize": -2.5, "labels": false, "title": null}},
    "y": {"datum": 1, "type": "quantitative", "scale": {"domain": [0.65,1.009], "nice": false, "zero": false}, "axis": {"orient": "right", "values": [0.65,0.675,0.7,0.725,0.75,0.775,0.8,0.825,0.85,0.875,0.9,0.925,0.95,0.975,1], "tickSize": -3.5, "labels": false, "title": null}}
   }}
 ]
},
{
 "width": 295, "height": 167,
 "resolve": {"axis": {"x": "independent", "y": "independent"}},
 "layer": [
  {"data": {"name": "corr_bz200"},
   "mark": {"type": "line", "color": "#ffbf20", "strokeWidth": 2, "clip": true},
   "encoding": {
    "x": {"field": "t", "type": "quantitative", "scale": {"domain": [0,1200], "nice": false, "zero": false}, "axis": {"orient": "bottom", "values": [0,200,400,600,800,1000,1200], "format": "d", "tickSize": -5, "labelPadding": 32, "labelBaseline": "alphabetic", "title": "Time\u00a0\u00a0[s]", "titleFontSize": 18, "titleY": 49, "titleBaseline": "alphabetic"}},
    "y": {"field": "v", "type": "quantitative", "scale": {"domain": [0.85,1.009], "nice": false, "zero": false}, "axis": {"orient": "left", "values": [0.9,0.95,1], "format": ".2f", "tickSize": -7, "labelPadding": 14, "title": "CORRELATION", "titleFontSize": 16, "titleAngle": 270, "titleX": -58, "titleY": 86, "titleBaseline": "alphabetic", "titleAlign": "center"}}
   }},
  {"data": {"name": "vl_bz200"},
   "mark": {"type": "rule", "strokeWidth": 2, "clip": true},
   "encoding": {
    "x": {"field": "t", "type": "quantitative", "scale": {"domain": [0,1200], "nice": false, "zero": false}, "axis": {"orient": "top", "values": [0,200,400,600,800,1000,1200], "tickSize": -5, "labels": false, "title": null}},
    "y": {"datum": 0.85, "type": "quantitative", "scale": {"domain": [0.85,1.009], "nice": false, "zero": false}, "axis": {"orient": "right", "values": [0.9,0.95,1], "tickSize": -7, "labels": false, "title": null}},
    "y2": {"datum": 1.009},
    "color": {"field": "s", "type": "nominal", "scale": {"domain": ["Dyn20","Dyn10","Dyn5","Bz50_20","Bz50_10","Bz200_20"], "range": ["#00b000","#ff0000","#0000ff","#ff00ff","#00ffff","#ffbf20"]}, "legend": null},
    "strokeDash": {"field": "k", "type": "nominal", "scale": {"domain": ["dotted","dashed"], "range": [[2,4],[18,8]]}, "legend": null}
   }},
  {"data": {"values": [{}]},
   "mark": {"type": "text", "text": ""},
   "encoding": {
    "x": {"datum": 0, "type": "quantitative", "scale": {"domain": [0,1200], "nice": false, "zero": false}, "axis": {"orient": "bottom", "values": [0,50,100,150,200,250,300,350,400,450,500,550,600,650,700,750,800,850,900,950,1000,1050,1100,1150,1200], "tickSize": -2.5, "labels": false, "title": null}},
    "y": {"datum": 1, "type": "quantitative", "scale": {"domain": [0.85,1.009], "nice": false, "zero": false}, "axis": {"orient": "left", "values": [0.85,0.86,0.87,0.88,0.89,0.9,0.91,0.92,0.93,0.94,0.95,0.96,0.97,0.98,0.99,1], "tickSize": -3.5, "labels": false, "title": null}}
   }},
  {"data": {"values": [{}]},
   "mark": {"type": "text", "text": ""},
   "encoding": {
    "x": {"datum": 0, "type": "quantitative", "scale": {"domain": [0,1200], "nice": false, "zero": false}, "axis": {"orient": "top", "values": [0,50,100,150,200,250,300,350,400,450,500,550,600,650,700,750,800,850,900,950,1000,1050,1100,1150,1200], "tickSize": -2.5, "labels": false, "title": null}},
    "y": {"datum": 1, "type": "quantitative", "scale": {"domain": [0.85,1.009], "nice": false, "zero": false}, "axis": {"orient": "right", "values": [0.85,0.86,0.87,0.88,0.89,0.9,0.91,0.92,0.93,0.94,0.95,0.96,0.97,0.98,0.99,1], "tickSize": -3.5, "labels": false, "title": null}}
   }}
 ]
}
]
}
